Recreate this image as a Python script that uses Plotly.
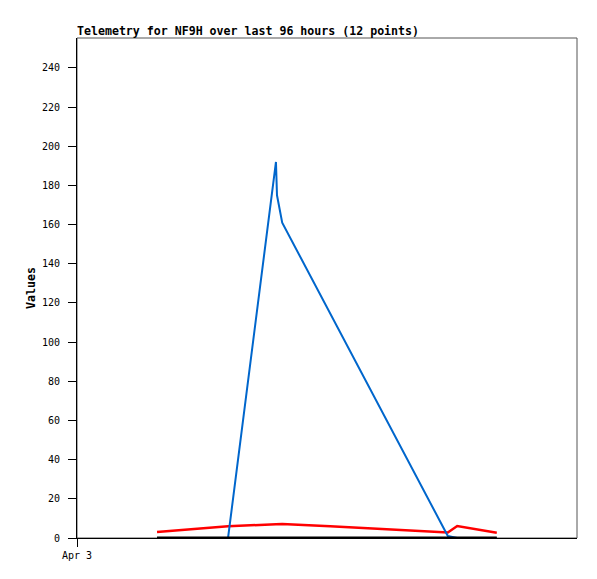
import plotly.graph_objects as go

# ---- data ----
times = [
    "2024-04-03 15:22", "2024-04-03 21:42", "2024-04-04 05:00", "2024-04-04 14:12",
    "2024-04-04 14:24", "2024-04-04 15:24", "2024-04-05 00:36", "2024-04-05 12:06",
    "2024-04-05 23:12", "2024-04-06 01:00", "2024-04-06 04:48", "2024-04-06 08:36",
]
blue_vals = [0, 0, 0, 192, 175, 161, 114.7, 56.9, 1, 0, 0, 0]
red_vals = [3.0, 4.4, 6.0, 7.0, 7.0, 7.1, 6.0, 4.5, 2.8, 6.1, 4.5, 2.7]
black_vals = [0] * 12

y_ticks = [0, 20, 40, 60, 80, 100, 120, 140, 160, 180, 200, 220, 240]
x_tick_vals = ["2024-04-03 00:00"]
x_tick_text = ["Apr 3"]
x_range = ["2024-04-03 00:00", "2024-04-07 00:00"]
y_range = [0, 255.3]

title_text = "Telemetry for NF9H over last 96 hours (12 points)"
y_title = "Values"

FONT = "DejaVu Sans Mono"
W, H = 589, 571  # page body margin of 8px is added by the browser

fig = go.Figure()
fig.add_trace(go.Scatter(x=times, y=red_vals, mode="lines",
                         line=dict(color="#FF0000", width=2.5), showlegend=False))
fig.add_trace(go.Scatter(x=times, y=blue_vals, mode="lines",
                         line=dict(color="#0066CC", width=2), showlegend=False))
fig.add_trace(go.Scatter(x=times, y=black_vals, mode="lines",
                         line=dict(color="#000000", width=3), showlegend=False))

fig.add_shape(type="rect", xref="paper", yref="paper", x0=0, x1=1, y0=0, y1=1,
              line=dict(color="#555555", width=1), layer="below")

fig.update_layout(
    width=W, height=H,
    margin=dict(l=69, r=20, t=30, b=41),
    paper_bgcolor="white", plot_bgcolor="white",
    title=dict(text=title_text, x=69/W, xanchor="left", y=1-23/H, yanchor="middle",
               font=dict(family=FONT, size=11.6, color="black", weight="bold")),
    xaxis=dict(
        type="date", range=x_range, tickmode="array", tickvals=x_tick_vals,
        ticktext=x_tick_text, ticks="outside", ticklen=8, tickcolor="black",
        showline=True, linecolor="black", linewidth=1, showgrid=False, zeroline=False,
        tickfont=dict(family=FONT, size=10, color="black"), automargin=False,
    ),
    yaxis=dict(
        range=y_range, tickmode="array", tickvals=y_ticks, ticks="outside", ticklen=8,
        tickcolor="black", showline=True, linecolor="black", linewidth=1,
        showgrid=False, zeroline=False, ticklabelstandoff=6,
        tickfont=dict(family=FONT, size=10, color="black"),
        title=dict(text=y_title, standoff=3,
                   font=dict(family=FONT, size=11.6, color="black", weight="bold")),
        automargin=False,
    ),
)

fig.write_html("out.html")
